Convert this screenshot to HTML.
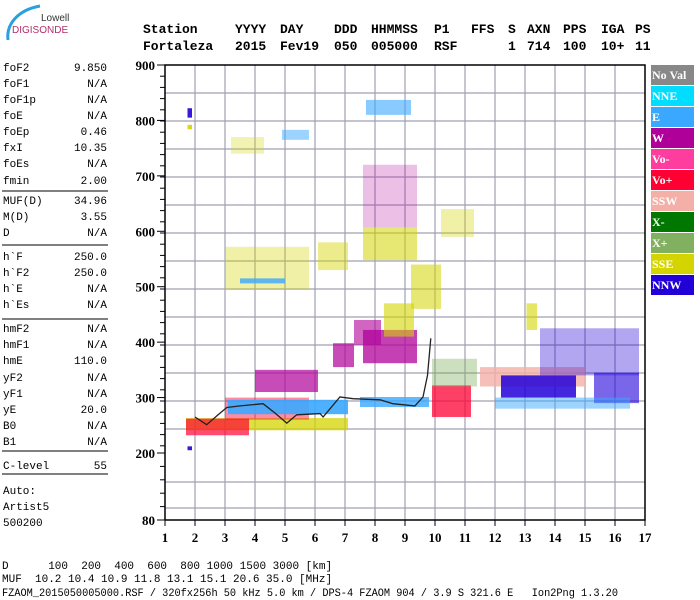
<!DOCTYPE html>
<html><head><meta charset="utf-8"><style>
html,body{margin:0;padding:0;background:#fff;}
svg{display:block;}
.mono{font-family:"Liberation Mono",monospace;}
.hdr{font-family:"Liberation Mono",monospace;font-weight:bold;font-size:13px;}
.tick{font-family:"Liberation Serif",serif;font-weight:bold;font-size:13px;}
.leg{font-family:"Liberation Serif",serif;font-weight:bold;font-size:12px;fill:#fff;}
</style></head><body>
<svg id="chart" width="700" height="600" viewBox="0 0 700 600" xmlns="http://www.w3.org/2000/svg">
<g>
<path d="M8,40 C6,24 18,10 40,6" stroke="#2aa0e0" stroke-width="3" fill="none"/>
<text x="41" y="21" font-family="Liberation Sans,sans-serif" font-size="10" fill="#333">Lowell</text>
<text x="12" y="33" font-family="Liberation Sans,sans-serif" font-size="10" fill="#b0306a">DIGISONDE</text>
</g>
<g id="header" class="hdr"></g>
<g id="params" class="mono" font-size="11"></g>
<g id="grid"></g>
<g id="echoes"></g>
<g id="trace"></g>
<g id="axes"></g>
<g id="legend"></g>
<g class="mono" font-size="11">
<text x="2" y="569" xml:space="preserve">D      100  200  400  600  800 1000 1500 3000 [km]</text>
<text x="2" y="582" xml:space="preserve">MUF  10.2 10.4 10.9 11.8 13.1 15.1 20.6 35.0 [MHz]</text>
<text x="2" y="596" textLength="616" lengthAdjust="spacingAndGlyphs" xml:space="preserve">FZAOM_2015050005000.RSF / 320fx256h 50 kHz 5.0 km / DPS-4 FZAOM 904 / 3.9 S 321.6 E   Ion2Png 1.3.20</text>
</g>
</svg>
<script>
// ---- data ----
const xTicks = [1,2,3,4,5,6,7,8,9,10,11,12,13,14,15,16,17];
const yTicks = [900,800,700,600,500,400,300,200,80];
const legendKeys = ['NoVal','NNE','E','W','Vo-','Vo+','SSW','X-','X+','SSE','NNW'];
const traceFreq = [2.0,2.39,2.77,3.06,3.5,4.27,4.67,5.06,5.39,6.17,6.27,6.83,7.27,8.17,8.6,9.33,9.6,9.75,9.86];
const traceHeight = [265,251,269,282,285,289,272,254,269,271,265,301,298,296,289,285,301,340,407];
const clusterF0 = [1.7,1.7,3.0,3.1,7.5,4.0,6.6,7.3,7.6,8.3,9.2,9.9,9.9,11.5,12.2,15.3,13.5,12.0,3.0,3.5,6.1,7.6,7.6,7.7,4.9,3.2,10.2,13.05,1.75,1.75,1.75];
const clusterF1 = [7.1,3.8,5.8,7.1,9.8,6.1,7.3,8.2,9.4,9.3,10.2,11.2,11.4,15.0,14.7,16.8,16.8,16.5,5.8,5.0,7.1,9.4,9.4,9.2,5.8,4.3,11.3,13.4,1.9,1.9,1.9];
const clusterH0 = [241,232,260,270,283,310,355,395,362,410,460,265,320,320,300,290,340,280,494,506,530,548,607,810,765,740,590,422,805,784,205];
const clusterH1 = [263,262,300,296,301,350,398,440,422,470,540,322,370,355,340,345,425,300,572,515,580,607,720,837,783,770,640,470,822,792,212];
const clusterKey = ['SSE','Vo+','Vo+','E','E','W','W','W','W','SSE','SSE','Vo+','X+','SSW','NNW','NNW','NNW','E','SSE','E','SSE','SSE','W','E','E','SSE','SSE','SSE','NNW','SSE','NNW'];
const density = [0.75,0.7,0.45,0.9,0.8,0.7,0.7,0.6,0.75,0.6,0.55,0.75,0.4,0.8,0.85,0.6,0.35,0.5,0.35,0.8,0.45,0.55,0.25,0.6,0.5,0.3,0.35,0.6,0.9,0.9,0.9];
const paramLabels = ['foF2','foF1','foF1p','foE','foEp','fxI','foEs','fmin','MUF(D)','M(D)','D','h`F','h`F2','h`E','h`Es','hmF2','hmF1','hmE','yF2','yF1','yE','B0','B1','C-level'];
const paramValues = ['9.850','N/A','N/A','N/A','0.46','10.35','N/A','2.00','34.96','3.55','N/A','250.0','250.0','N/A','N/A','N/A','N/A','110.0','N/A','N/A','20.0','N/A','N/A','55'];
const hdr1 = ['Station','YYYY','DAY','DDD','HHMMSS','P1','FFS','S','AXN','PPS','IGA','PS'];
const hdr2 = ['Fortaleza','2015','Fev19','050','005000','RSF','','1','714','100','10+','11'];

const colors = {NoVal:'#888888',NNE:'#00ddff',E:'#3aa8ff',W:'#b0009a','Vo-':'#ff3d9e','Vo+':'#ff0033',SSW:'#f4b0a8','X-':'#007800','X+':'#80b060',SSE:'#d4d400',NNW:'#2200d8'};
const NS='http://www.w3.org/2000/svg';
function mk(tag,attrs,parent){const e=document.createElementNS(NS,tag);for(const k in attrs)e.setAttribute(k,attrs[k]);parent.appendChild(e);return e;}
function xS(f){return 165+(f-1)*30;}
function yS(h){return h>=200?453-(h-200)*0.5543:453+(200-h)*(67/120);}

// header
const hx=[143,235,280,334,371,434,471,508,527,563,601,635];
const H=document.getElementById('header');
hdr1.forEach((t,i)=>{const e=mk('text',{x:hx[i],y:33},H);e.textContent=t;

});
hdr2.forEach((t,i)=>{const e=mk('text',{x:hx[i],y:50},H);e.textContent=t;

});

// params
const P=document.getElementById('params');
const rowY=[71,87,103,119,135,151,167,184,204,220,236,260,276,292,308,332,348,364,381,397,413,429,445,469];
const sepY=[191,245,319,451,474];
paramLabels.forEach((l,i)=>{
 const a=mk('text',{x:3,y:rowY[i]},P);a.textContent=l;
 
 
 const b=mk('text',{x:107,y:rowY[i],'text-anchor':'end'},P);b.textContent=paramValues[i];
 
 
});
sepY.forEach(y=>{const l=mk('line',{x1:2,x2:108,y1:y,y2:y,stroke:'#000','stroke-width':1},P);

});
[['Auto:',494],['Artist5',510],['500200',526]].forEach(r=>{const t=mk('text',{x:3,y:r[1]},P);t.textContent=r[0];

});

// grid
const G=document.getElementById('grid');
for(let y=65+28;y<=455;y+=28){const l=mk('line',{x1:165,x2:645,y1:y,y2:y,stroke:'#a0a0b0','stroke-width':1.2},G);

}
[482,508].forEach(y=>{const l=mk('line',{x1:165,x2:645,y1:y,y2:y,stroke:'#a0a0b0','stroke-width':1.2},G);

});
xTicks.forEach(f=>{if(f===1||f===17)return;const l=mk('line',{x1:xS(f),x2:xS(f),y1:65,y2:520,stroke:'#a0a0b0','stroke-width':1.2},G);

});

// echoes
const E=document.getElementById('echoes');
clusterKey.forEach((k,i)=>{
 const x0=xS(clusterF0[i]),x1=xS(clusterF1[i]),y0=yS(clusterH1[i]),y1=yS(clusterH0[i]);
 const r=mk('rect',{x:x0,y:y0,width:Math.max(2,x1-x0),height:Math.max(2,y1-y0),fill:colors[k],'fill-opacity':density[i]},E);
 
 
});

// trace
const T=document.getElementById('trace');
const pts=traceFreq.map((f,i)=>xS(f).toFixed(1)+','+yS(traceHeight[i]).toFixed(1)).join(' ');
const pl=mk('polyline',{points:pts,fill:'none',stroke:'#222','stroke-width':1.3},T);



// axes
const A=document.getElementById('axes');
const fr=mk('path',{d:'M165,520 L165,65 L645,65 L645,520 L165,520',fill:'none',stroke:'#000','stroke-width':1.5},A);


for(let y=65;y<=453;y+=11.2){const l=mk('line',{x1:160,x2:165,y1:y,y2:y,stroke:'#000'},A);

}
for(let y=453;y<=520;y+=13.4){const l=mk('line',{x1:160,x2:165,y1:y,y2:y,stroke:'#000'},A);

}
yTicks.forEach(h=>{const y=yS(h);
 const l=mk('line',{x1:157,x2:165,y1:y,y2:y,stroke:'#000'},A);
 
 
 const t=mk('text',{x:155,y:y+5,'text-anchor':'end',class:'tick'},A);t.textContent=h;
 
 });
xTicks.forEach(f=>{const x=xS(f);
 const l=mk('line',{x1:x,x2:x,y1:520,y2:526,stroke:'#000'},A);
 
 
 const t=mk('text',{x:x,y:542,'text-anchor':'middle',class:'tick'},A);t.textContent=f;
 
 });

// legend
const L=document.getElementById('legend');
legendKeys.forEach((k,i)=>{const y=65+i*21;
 const r=mk('rect',{x:651,y:y,width:43,height:20,fill:colors[k]},L);
 
 
 const t=mk('text',{x:652,y:y+14,class:'leg'},L);t.textContent=k==='NoVal'?'No Val':k;
 if(k==='SSW')t.setAttribute('fill','#fde0dc');
 
 });
</script>
</body></html>
